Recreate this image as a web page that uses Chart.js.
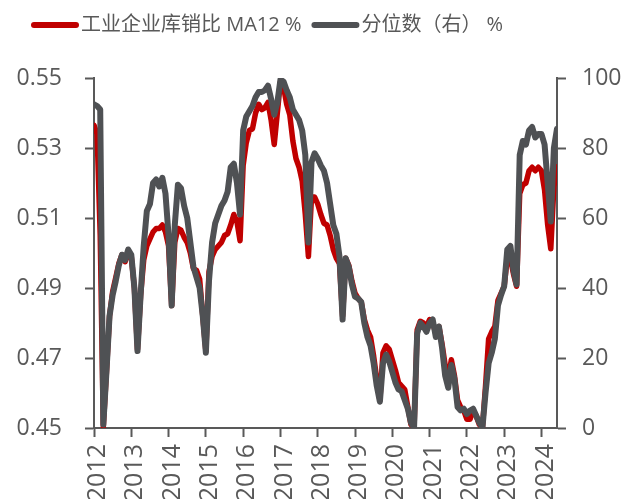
<!DOCTYPE html>
<html>
<head>
<meta charset="utf-8">
<script src="https://cdn.jsdelivr.net/npm/chart.js@4.4.1/dist/chart.umd.min.js"></script>
<style>
  body { margin: 0; background: #fff; }
  canvas { display: block; }
</style>
</head>
<body>
<canvas id="myChart" width="625" height="499"></canvas>
<script>
/* monthly data, Jan 2012 - Jun 2024 (one row per year) */
var startYear = 2012;
var yearLabels = ['2012', '2013', '2014', '2015', '2016', '2017', '2018',
                  '2019', '2020', '2021', '2022', '2023', '2024'];

var ratioMA12 = [
  0.5365, 0.534, 0.505, 0.4505, 0.466, 0.482, 0.489, 0.493, 0.497, 0.4995, 0.4975, 0.500,
  0.499, 0.490, 0.4725, 0.488, 0.498, 0.502, 0.504, 0.506, 0.507, 0.507, 0.508, 0.506,
  0.502, 0.485, 0.503, 0.507, 0.5065, 0.5045, 0.503, 0.500, 0.4955, 0.495, 0.4925, 0.482,
  0.472, 0.4946, 0.499, 0.501, 0.502, 0.503, 0.505, 0.5055, 0.508, 0.511, 0.509, 0.5035,
  0.525, 0.5315, 0.535, 0.5355, 0.540, 0.5425, 0.541, 0.5415, 0.543, 0.538, 0.531, 0.540,
  0.549, 0.5475, 0.5425, 0.5395, 0.532, 0.527, 0.5245, 0.5205, 0.511, 0.499, 0.516, 0.516,
  0.514, 0.511, 0.5085, 0.508, 0.505, 0.501, 0.4985, 0.497, 0.482, 0.4985, 0.4965, 0.492,
  0.4885, 0.487, 0.486, 0.481, 0.478, 0.476, 0.4705, 0.464, 0.458, 0.4715, 0.4735, 0.4725,
  0.4695, 0.4665, 0.463, 0.462, 0.461, 0.456, 0.451, 0.450, 0.478, 0.4805, 0.480, 0.479,
  0.481, 0.480, 0.477, 0.479, 0.474, 0.468, 0.464, 0.4695, 0.465, 0.458, 0.456, 0.455,
  0.4525, 0.4525, 0.455, 0.4535, 0.451, 0.450, 0.462, 0.4755, 0.4775, 0.479, 0.4865, 0.4885,
  0.4905, 0.4985, 0.4985, 0.494, 0.4905, 0.517, 0.5195, 0.520, 0.5235, 0.5245, 0.5235, 0.5245,
  0.5235, 0.518, 0.508, 0.5012, 0.519, 0.5246
];

var percentile = [
  92.5, 92, 91, 1, 16, 32, 38, 42, 46.5, 49.5, 48, 51,
  49.5, 40, 22, 38, 52, 62, 64, 70, 71, 69, 71.5, 67,
  55, 35, 58, 69.5, 68.5, 63.5, 60, 53, 46, 43, 40, 32,
  21.5, 42, 53, 58.5, 61, 63.5, 65, 67.5, 74.5, 75.5, 70, 61,
  85, 89, 90.5, 92, 94.5, 96, 96, 96.5, 97.8, 94, 89.5, 93,
  99.5, 99, 96.5, 94.5, 91, 89.5, 88, 85, 78, 53, 76, 78.5,
  77, 75, 73.5, 70, 64, 58, 55.5, 49, 31, 48.5, 46, 41,
  37.5, 37, 36, 30, 26, 23.5, 18.5, 12, 7.5, 18.5, 21, 19,
  16, 13, 11, 10.5, 8, 5.5, 1.5, 0, 27, 30, 29, 27.5,
  30, 31, 26, 29, 23, 15, 11.5, 18, 14, 6, 5, 5.5,
  4, 5, 5.5, 3.5, 1.5, 0, 10, 18.5, 21.5, 25.5, 35, 38,
  40.5, 51, 52, 45, 41, 78, 82, 81, 85, 86, 83, 84,
  84, 81, 70, 59, 80, 85.5
];

var ratioTicks = [0.45, 0.47, 0.49, 0.51, 0.53, 0.55];
var percentTicks = [0, 20, 40, 60, 80, 100];

var seriesNames = ['工业企业库销比 MA12 %', '分位数（右） %'];
var seriesColors = ['#C00000', '#4F5154'];

var axisColor = '#595959';
var fontFamily = '"Open Sans", "Noto Sans CJK SC", sans-serif';

function toPoints(values) {
  return values.map(function(v, i) { return { x: i, y: v }; });
}

function tickList(values) {
  return values.map(function(v) { return { value: v }; });
}

/* legend drawn by hand: thick line sample + text, left to right */
var lineLegend = {
  id: 'lineLegend',
  afterDraw: function(chart) {
    var ctx = chart.ctx;
    var x = 34, y = 25;
    ctx.save();
    ctx.font = '20px ' + fontFamily;
    ctx.textBaseline = 'middle';
    ctx.lineCap = 'round';
    ctx.lineWidth = 6;
    chart.data.datasets.forEach(function(ds) {
      ctx.strokeStyle = ds.borderColor;
      ctx.beginPath();
      ctx.moveTo(x, y);
      ctx.lineTo(x + 42, y);
      ctx.stroke();
      x += 47;
      ctx.fillStyle = axisColor;
      ctx.fillText(ds.label, x, y);
      x += ctx.measureText(ds.label).width + 13;
    });
    ctx.restore();
  }
};

var tickFont = { size: 23, family: fontFamily };

var config = {
  type: 'line',
  data: {
    datasets: [{
      label: seriesNames[0],
      data: toPoints(ratioMA12),
      yAxisID: 'y',
      borderColor: seriesColors[0],
      borderWidth: 5.5,
      order: 2
    }, {
      label: seriesNames[1],
      data: toPoints(percentile),
      yAxisID: 'y1',
      borderColor: seriesColors[1],
      borderWidth: 6,
      order: 1
    }]
  },
  options: {
    responsive: false,
    animation: false,
    layout: { padding: { top: 78, left: 0, right: 0, bottom: 0 } },
    elements: {
      point: { radius: 0 },
      line: { tension: 0, borderJoinStyle: 'round', borderCapStyle: 'round', fill: false }
    },
    plugins: {
      legend: { display: false },
      tooltip: { enabled: false }
    },
    scales: {
      x: {
        type: 'linear',
        min: 0,
        max: ratioMA12.length - 1,
        afterBuildTicks: function(axis) {
          axis.ticks = tickList(yearLabels.map(function(l, i) { return i * 12; }));
        },
        afterFit: function(axis) { axis.height = 71; },
        ticks: {
          callback: function(v) { return yearLabels[v / 12]; },
          minRotation: 90,
          maxRotation: 90,
          padding: 7,
          labelOffset: 4,
          color: axisColor,
          font: { size: 25, family: fontFamily }
        },
        grid: { drawOnChartArea: false, tickLength: 9, tickWidth: 2, tickColor: axisColor },
        border: { display: true, color: axisColor, width: 2 }
      },
      y: {
        position: 'left',
        min: 0.45,
        max: 0.55,
        afterBuildTicks: function(axis) { axis.ticks = tickList(ratioTicks); },
        afterFit: function(axis) { axis.width = 94; },
        ticks: {
          callback: function(v) { return v.toFixed(2); },
          padding: 23,
          color: axisColor,
          font: tickFont
        },
        grid: { drawOnChartArea: false, tickLength: 9, tickWidth: 2, tickColor: axisColor },
        border: { display: true, color: axisColor, width: 2 }
      },
      y1: {
        position: 'right',
        min: 0,
        max: 100,
        afterBuildTicks: function(axis) { axis.ticks = tickList(percentTicks); },
        afterFit: function(axis) { axis.width = 68; },
        ticks: {
          callback: function(v) { return String(v); },
          padding: 16,
          color: axisColor,
          font: tickFont
        },
        grid: { drawOnChartArea: false, tickLength: 9, tickWidth: 2, tickColor: axisColor },
        border: { display: true, color: axisColor, width: 2 }
      }
    }
  },
  plugins: [lineLegend]
};

var ctx = document.getElementById('myChart').getContext('2d');
window.invChart = new Chart(ctx, config);
</script>
</body>
</html>
